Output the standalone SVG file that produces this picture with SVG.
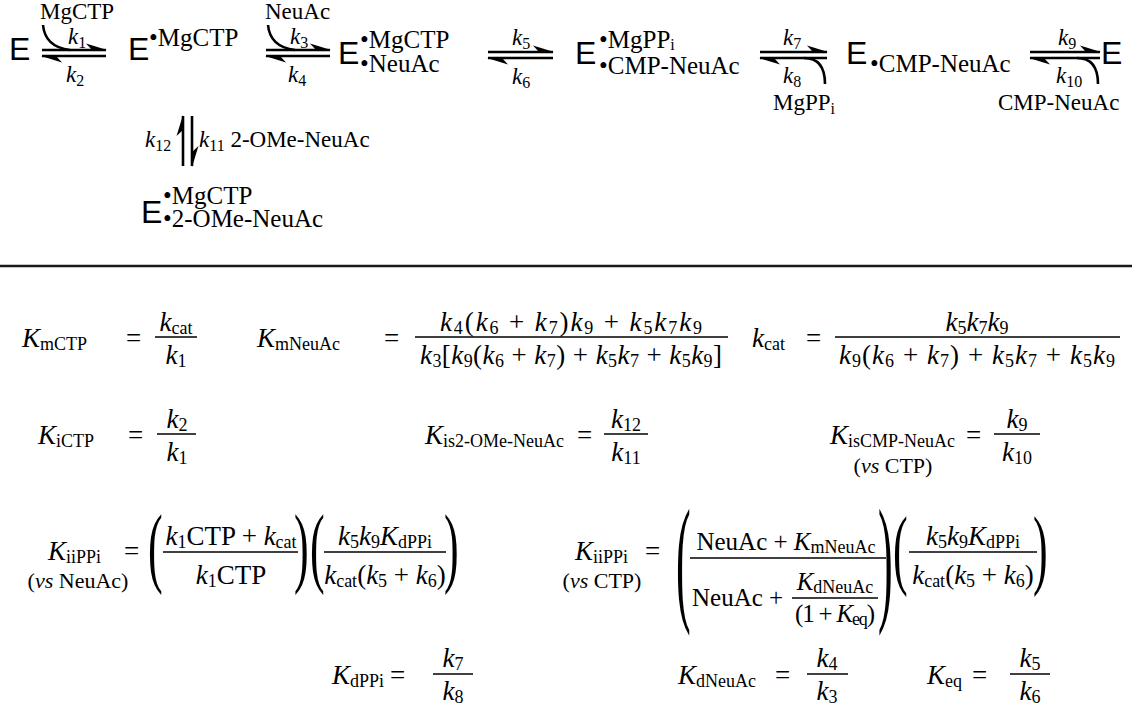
<svg xmlns="http://www.w3.org/2000/svg" width="1132" height="709" viewBox="0 0 1132 709">
<style>
  .E { font-family: "Liberation Sans", Arial, sans-serif; font-size: 32px; fill: #000; }
  .sp { font-family: "Liberation Serif", "Times New Roman", serif; font-size: 25px; fill: #000; }
  .lb { font-family: "Liberation Serif", "Times New Roman", serif; font-size: 23px; fill: #000; }
  .q { font-family: "Liberation Serif", "Times New Roman", serif; font-size: 27px; fill: #000; }
  .q2 { font-family: "Liberation Serif", "Times New Roman", serif; font-size: 25px; fill: #000; }
  .vs { font-family: "Liberation Serif", "Times New Roman", serif; font-size: 22px; fill: #000; }
  .pr { font-family: "Liberation Serif", "Times New Roman", serif; font-size: 44px; fill: #000; }
  .i { font-style: italic; }
  .s { font-size: 18px; }
  .ks { font-size: 16px; }
  .ar { stroke: #000; stroke-width: 2.6; fill: none; }
  .ln { stroke: #000; stroke-width: 1.7; }
  .rule { stroke: #1a1a1a; stroke-width: 2.6; }
</style>
<defs>
  <marker id="half" viewBox="-22 -8 24 16" refX="0" refY="0" markerWidth="24" markerHeight="16" markerUnits="userSpaceOnUse" orient="auto">
    <path d="M1,0 L-20,-6.5 L-14,0 Z" fill="#000"/>
  </marker>
</defs>
<rect width="1132" height="709" fill="#fff"/>

<!-- enzyme species -->
<g id="E-free"><text class="E" x="9" y="60">E</text></g>
<g id="E-MgCTP"><text class="E" x="128" y="60">E</text><text class="sp" x="149" y="46">•MgCTP</text></g>
<g id="E-MgCTP-NeuAc"><text class="E" x="338" y="64">E</text><text class="sp" x="360" y="48">•MgCTP</text><text class="sp" x="360" y="72">•NeuAc</text></g>
<g id="E-MgPPi-CMPNeuAc"><text class="E" x="575" y="64">E</text><text class="sp" x="599" y="48">•MgPP<tspan class="ks" dy="2">i</tspan></text><text class="sp" x="599" y="74">•CMP-NeuAc</text></g>
<g id="E-CMPNeuAc"><text class="E" x="846" y="64">E</text><text class="sp" x="870" y="72">•CMP-NeuAc</text></g>
<g id="E-product"><text class="E" x="1101" y="64">E</text></g>
<g id="E-MgCTP-2OMeNeuAc"><text class="E" x="141" y="223">E</text><text class="sp" x="163" y="204">•MgCTP</text><text class="sp" x="163" y="227">•2-OMe-NeuAc</text></g>

<!-- equilibrium arrows, binding/release curves and rate constants -->
<g id="connectors">
  <path class="ar" d="M42,50 H106" marker-end="url(#half)"/>
  <path class="ar" d="M106,56 H42" marker-end="url(#half)"/>
  <path class="ar" d="M43,25 Q45,47 70,50"/>
  <path class="ar" d="M266,50 H330" marker-end="url(#half)"/>
  <path class="ar" d="M330,56 H266" marker-end="url(#half)"/>
  <path class="ar" d="M268,25 Q270,47 295,50"/>
  <path class="ar" d="M488,52 H553" marker-end="url(#half)"/>
  <path class="ar" d="M553,58 H488" marker-end="url(#half)"/>
  <path class="ar" d="M760,52 H827" marker-end="url(#half)"/>
  <path class="ar" d="M827,58 H760" marker-end="url(#half)"/>
  <path class="ar" d="M804,58 Q825,58 825,84"/>
  <path class="ar" d="M1030,52 H1100" marker-end="url(#half)"/>
  <path class="ar" d="M1100,58 H1030" marker-end="url(#half)"/>
  <path class="ar" d="M1077,58 Q1098,58 1098,84"/>
  <path class="ar" d="M183,166 V116" marker-end="url(#half)"/>
  <path class="ar" d="M192,116 V166" marker-end="url(#half)"/>

  <text class="lb" x="40" y="19">MgCTP</text>
  <text class="lb" x="265" y="19">NeuAc</text>
  <text class="lb" x="773" y="110">MgPP<tspan class="ks" dy="4">i</tspan></text>
  <text class="lb" x="998" y="110">CMP-NeuAc</text>
  <text class="lb" x="68" y="44"><tspan class="i">k</tspan><tspan class="ks" dy="4">1</tspan></text>
  <text class="lb" x="66" y="82"><tspan class="i">k</tspan><tspan class="ks" dy="4">2</tspan></text>
  <text class="lb" x="290" y="44"><tspan class="i">k</tspan><tspan class="ks" dy="4">3</tspan></text>
  <text class="lb" x="288" y="82"><tspan class="i">k</tspan><tspan class="ks" dy="4">4</tspan></text>
  <text class="lb" x="512" y="45"><tspan class="i">k</tspan><tspan class="ks" dy="4">5</tspan></text>
  <text class="lb" x="512" y="84"><tspan class="i">k</tspan><tspan class="ks" dy="4">6</tspan></text>
  <text class="lb" x="783" y="45"><tspan class="i">k</tspan><tspan class="ks" dy="4">7</tspan></text>
  <text class="lb" x="783" y="83"><tspan class="i">k</tspan><tspan class="ks" dy="4">8</tspan></text>
  <text class="lb" x="1058" y="45"><tspan class="i">k</tspan><tspan class="ks" dy="4">9</tspan></text>
  <text class="lb" x="1056" y="83"><tspan class="i">k</tspan><tspan class="ks" dy="4">10</tspan></text>
  <text class="lb" x="145" y="147"><tspan class="i">k</tspan><tspan class="ks" dy="4">12</tspan></text>
  <text class="lb" x="199" y="147"><tspan class="i">k</tspan><tspan class="ks" dy="4">11</tspan><tspan dy="-4"> 2-OMe-NeuAc</tspan></text>
</g>

<line class="rule" x1="0" y1="266" x2="1132" y2="266"/>

<!-- rate equations -->
<g id="equations">
  <!-- row 1 -->
  <text class="q" x="22" y="347"><tspan class="i">K</tspan><tspan class="s" dy="3">mCTP</tspan></text>
  <text class="q" x="126" y="347">=</text>
  <line class="ln" x1="155" y1="337" x2="197" y2="337"/>
  <text class="q" x="176" y="331" text-anchor="middle"><tspan class="i">k</tspan><tspan class="s" dy="3">cat</tspan></text>
  <text class="q" x="176" y="364" text-anchor="middle"><tspan class="i">k</tspan><tspan class="s" dy="3">1</tspan></text>

  <text class="q" x="257" y="347"><tspan class="i">K</tspan><tspan class="s" dy="3">mNeuAc</tspan></text>
  <text class="q" x="384" y="347">=</text>
  <line class="ln" x1="415" y1="337" x2="728" y2="337"/>
  <text class="q" x="571" y="331" text-anchor="middle" textLength="262" lengthAdjust="spacing"><tspan class="i">k</tspan><tspan class="s" dy="3">4</tspan><tspan dy="-3">(</tspan><tspan class="i">k</tspan><tspan class="s" dy="3">6</tspan><tspan dy="-3"> + </tspan><tspan class="i">k</tspan><tspan class="s" dy="3">7</tspan><tspan dy="-3">)</tspan><tspan class="i">k</tspan><tspan class="s" dy="3">9</tspan><tspan dy="-3"> + </tspan><tspan class="i">k</tspan><tspan class="s" dy="3">5</tspan><tspan class="i" dy="-3">k</tspan><tspan class="s" dy="3">7</tspan><tspan class="i" dy="-3">k</tspan><tspan class="s" dy="3">9</tspan></text>
  <text class="q" x="571" y="364" text-anchor="middle" textLength="302" lengthAdjust="spacing"><tspan class="i">k</tspan><tspan class="s" dy="3">3</tspan><tspan dy="-3">[</tspan><tspan class="i">k</tspan><tspan class="s" dy="3">9</tspan><tspan dy="-3">(</tspan><tspan class="i">k</tspan><tspan class="s" dy="3">6</tspan><tspan dy="-3"> + </tspan><tspan class="i">k</tspan><tspan class="s" dy="3">7</tspan><tspan dy="-3">) + </tspan><tspan class="i">k</tspan><tspan class="s" dy="3">5</tspan><tspan class="i" dy="-3">k</tspan><tspan class="s" dy="3">7</tspan><tspan dy="-3"> + </tspan><tspan class="i">k</tspan><tspan class="s" dy="3">5</tspan><tspan class="i" dy="-3">k</tspan><tspan class="s" dy="3">9</tspan><tspan dy="-3">]</tspan></text>

  <text class="q" x="752" y="347"><tspan class="i">k</tspan><tspan class="s" dy="3">cat</tspan></text>
  <text class="q" x="806" y="347">=</text>
  <line class="ln" x1="835" y1="337" x2="1120" y2="337"/>
  <text class="q" x="977" y="331" text-anchor="middle"><tspan class="i">k</tspan><tspan class="s" dy="3">5</tspan><tspan class="i" dy="-3">k</tspan><tspan class="s" dy="3">7</tspan><tspan class="i" dy="-3">k</tspan><tspan class="s" dy="3">9</tspan></text>
  <text class="q" x="977" y="364" text-anchor="middle" textLength="276" lengthAdjust="spacing"><tspan class="i">k</tspan><tspan class="s" dy="3">9</tspan><tspan dy="-3">(</tspan><tspan class="i">k</tspan><tspan class="s" dy="3">6</tspan><tspan dy="-3"> + </tspan><tspan class="i">k</tspan><tspan class="s" dy="3">7</tspan><tspan dy="-3">) + </tspan><tspan class="i">k</tspan><tspan class="s" dy="3">5</tspan><tspan class="i" dy="-3">k</tspan><tspan class="s" dy="3">7</tspan><tspan dy="-3"> + </tspan><tspan class="i">k</tspan><tspan class="s" dy="3">5</tspan><tspan class="i" dy="-3">k</tspan><tspan class="s" dy="3">9</tspan></text>

  <!-- row 2 -->
  <text class="q" x="38" y="444"><tspan class="i">K</tspan><tspan class="s" dy="3">iCTP</tspan></text>
  <text class="q" x="128" y="444">=</text>
  <line class="ln" x1="157" y1="434" x2="196" y2="434"/>
  <text class="q" x="177" y="428" text-anchor="middle"><tspan class="i">k</tspan><tspan class="s" dy="3">2</tspan></text>
  <text class="q" x="177" y="461" text-anchor="middle"><tspan class="i">k</tspan><tspan class="s" dy="3">1</tspan></text>

  <text class="q" x="425" y="444"><tspan class="i">K</tspan><tspan class="s" dy="3">is2-OMe-NeuAc</tspan></text>
  <text class="q" x="577" y="444">=</text>
  <line class="ln" x1="604" y1="434" x2="648" y2="434"/>
  <text class="q" x="626" y="428" text-anchor="middle"><tspan class="i">k</tspan><tspan class="s" dy="3">12</tspan></text>
  <text class="q" x="626" y="461" text-anchor="middle"><tspan class="i">k</tspan><tspan class="s" dy="3">11</tspan></text>

  <text class="q" x="830" y="444"><tspan class="i">K</tspan><tspan class="s" dy="3">isCMP-NeuAc</tspan></text>
  <text class="q" x="966" y="444">=</text>
  <text class="vs" x="893" y="473" text-anchor="middle">(<tspan class="i">vs</tspan> CTP)</text>
  <line class="ln" x1="994" y1="434" x2="1040" y2="434"/>
  <text class="q" x="1017" y="428" text-anchor="middle"><tspan class="i">k</tspan><tspan class="s" dy="3">9</tspan></text>
  <text class="q" x="1017" y="461" text-anchor="middle"><tspan class="i">k</tspan><tspan class="s" dy="3">10</tspan></text>

  <!-- row 3, left -->
  <text class="q" x="48" y="560"><tspan class="i">K</tspan><tspan class="s" dy="3">iiPPi</tspan></text>
  <text class="q" x="124" y="560">=</text>
  <text class="vs" x="78" y="588" text-anchor="middle">(<tspan class="i">vs</tspan> NeuAc)</text>
  <text class="pr" transform="translate(148,576) scale(1,2)">(</text>
  <line class="ln" x1="163" y1="552" x2="298" y2="552"/>
  <text class="q" x="231" y="545" text-anchor="middle"><tspan class="i">k</tspan><tspan class="s" dy="3">1</tspan><tspan dy="-3">CTP + </tspan><tspan class="i">k</tspan><tspan class="s" dy="3">cat</tspan></text>
  <text class="q" x="231" y="584" text-anchor="middle"><tspan class="i">k</tspan><tspan class="s" dy="3">1</tspan><tspan dy="-3">CTP</tspan></text>
  <text class="pr" transform="translate(294,576) scale(1,2)">)</text>
  <text class="pr" transform="translate(310,576) scale(1,2)">(</text>
  <line class="ln" x1="324" y1="552" x2="446" y2="552"/>
  <text class="q" x="385" y="545" text-anchor="middle"><tspan class="i">k</tspan><tspan class="s" dy="3">5</tspan><tspan class="i" dy="-3">k</tspan><tspan class="s" dy="3">9</tspan><tspan class="i" dy="-3">K</tspan><tspan class="s" dy="3">dPPi</tspan></text>
  <text class="q" x="385" y="584" text-anchor="middle"><tspan class="i">k</tspan><tspan class="s" dy="3">cat</tspan><tspan dy="-3">(</tspan><tspan class="i">k</tspan><tspan class="s" dy="3">5</tspan><tspan dy="-3"> + </tspan><tspan class="i">k</tspan><tspan class="s" dy="3">6</tspan><tspan dy="-3">)</tspan></text>
  <text class="pr" transform="translate(444,576) scale(1,2)">)</text>

  <!-- row 3, right -->
  <text class="q" x="575" y="560"><tspan class="i">K</tspan><tspan class="s" dy="3">iiPPi</tspan></text>
  <text class="q" x="645" y="560">=</text>
  <text class="vs" x="602" y="588" text-anchor="middle">(<tspan class="i">vs</tspan> CTP)</text>
  <text class="pr" transform="translate(676,606) scale(1,3.17)">(</text>
  <line class="ln" x1="690" y1="558" x2="886" y2="558"/>
  <text class="q2" x="786" y="550" text-anchor="middle">NeuAc + <tspan class="i">K</tspan><tspan class="s" dy="3">mNeuAc</tspan></text>
  <text class="q2" x="692" y="606">NeuAc +</text>
  <line class="ln" x1="792" y1="598" x2="878" y2="598"/>
  <text class="q2" x="835" y="590" text-anchor="middle"><tspan class="i">K</tspan><tspan class="s" dy="3">dNeuAc</tspan></text>
  <text class="q2" x="835" y="622" text-anchor="middle" textLength="80" lengthAdjust="spacing">(1 + <tspan class="i">K</tspan><tspan class="s" dy="3">eq</tspan><tspan dy="-3">)</tspan></text>
  <text class="pr" transform="translate(878,606) scale(1,3.17)">)</text>
  <text class="pr" transform="translate(893,578) scale(1,2)">(</text>
  <line class="ln" x1="909" y1="552" x2="1037" y2="552"/>
  <text class="q" x="973" y="545" text-anchor="middle"><tspan class="i">k</tspan><tspan class="s" dy="3">5</tspan><tspan class="i" dy="-3">k</tspan><tspan class="s" dy="3">9</tspan><tspan class="i" dy="-3">K</tspan><tspan class="s" dy="3">dPPi</tspan></text>
  <text class="q" x="973" y="584" text-anchor="middle"><tspan class="i">k</tspan><tspan class="s" dy="3">cat</tspan><tspan dy="-3">(</tspan><tspan class="i">k</tspan><tspan class="s" dy="3">5</tspan><tspan dy="-3"> + </tspan><tspan class="i">k</tspan><tspan class="s" dy="3">6</tspan><tspan dy="-3">)</tspan></text>
  <text class="pr" transform="translate(1033,578) scale(1,2)">)</text>

  <!-- row 4 -->
  <text class="q" x="332" y="684"><tspan class="i">K</tspan><tspan class="s" dy="3">dPPi</tspan></text>
  <text class="q" x="390" y="684">=</text>
  <line class="ln" x1="433" y1="674" x2="473" y2="674"/>
  <text class="q" x="453" y="667" text-anchor="middle"><tspan class="i">k</tspan><tspan class="s" dy="3">7</tspan></text>
  <text class="q" x="453" y="700" text-anchor="middle"><tspan class="i">k</tspan><tspan class="s" dy="3">8</tspan></text>

  <text class="q" x="678" y="684"><tspan class="i">K</tspan><tspan class="s" dy="3">dNeuAc</tspan></text>
  <text class="q" x="775" y="684">=</text>
  <line class="ln" x1="807" y1="674" x2="848" y2="674"/>
  <text class="q" x="827" y="667" text-anchor="middle"><tspan class="i">k</tspan><tspan class="s" dy="3">4</tspan></text>
  <text class="q" x="827" y="700" text-anchor="middle"><tspan class="i">k</tspan><tspan class="s" dy="3">3</tspan></text>

  <text class="q" x="927" y="684"><tspan class="i">K</tspan><tspan class="s" dy="3">eq</tspan></text>
  <text class="q" x="972" y="684">=</text>
  <line class="ln" x1="1010" y1="674" x2="1050" y2="674"/>
  <text class="q" x="1030" y="667" text-anchor="middle"><tspan class="i">k</tspan><tspan class="s" dy="3">5</tspan></text>
  <text class="q" x="1030" y="700" text-anchor="middle"><tspan class="i">k</tspan><tspan class="s" dy="3">6</tspan></text>
</g>
</svg>
